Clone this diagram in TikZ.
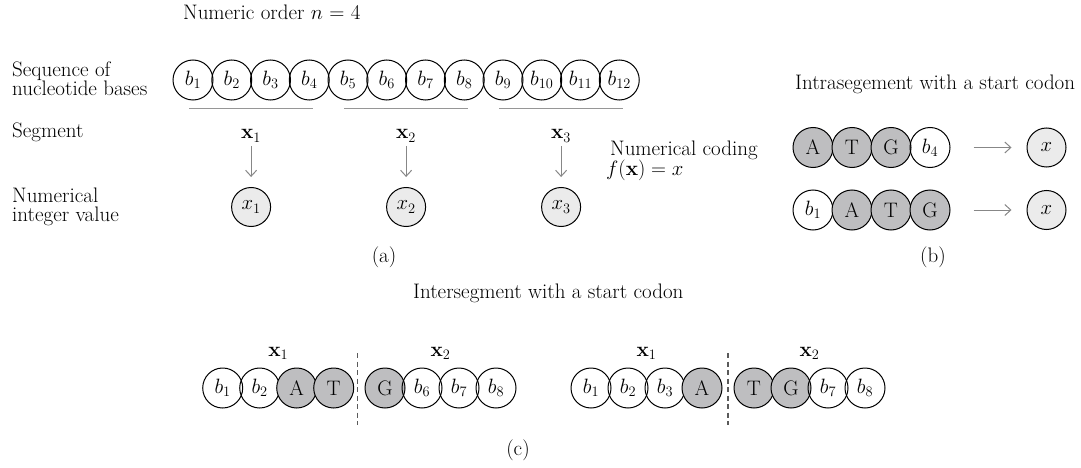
\documentclass[tikz,border=0pt]{standalone}
\usetikzlibrary{arrows.meta,calc}
\newcommand{\fsz}{\fontsize{21}{23}\selectfont}
\definecolor{codon}{RGB}{190,190,192}
\definecolor{valfill}{RGB}{235,235,235}
\definecolor{seggray}{RGB}{150,150,150}
\definecolor{arrgray}{RGB}{135,135,135}
\definecolor{dashgray}{RGB}{90,90,90}
\tikzset{
  basec/.style={circle, draw=black, line width=1pt, minimum size=40pt, inner sep=0pt, font=\fsz},
  darkc/.style={basec, fill=codon},
  valc/.style={basec, fill=valfill, minimum size=39pt},
  lbl/.style={font=\fsz, inner sep=0pt},
  seg/.style={draw=seggray, line width=1.8pt},
  arr/.style={draw=arrgray, line width=1pt, -{Straight Barb[length=6pt,width=11pt]}},
  divline/.style={draw=dashgray, line width=1.3pt, dash pattern=on 5pt off 3.5pt},
}
\begin{document}
\begin{tikzpicture}[x=1pt,y=-1pt]
\useasboundingbox (0,0) rectangle (1081,468);
% titles and side labels
\node[lbl, anchor=base west] (title) at (183,20) {Numeric order $n$ = 4};
\node[lbl, anchor=base west] (seq1) at (12,77) {Sequence of};
\node[lbl, anchor=base west] (seq2) at (12,96) {nucleotide bases};
\node[lbl, anchor=base west] (segl) at (12,137) {Segment};
\node[lbl, anchor=base west] (num1) at (12,202) {Numerical};
\node[lbl, anchor=base west] (num2) at (12,221) {integer value};
\node[lbl, anchor=base west] (cod1) at (610,155) {Numerical coding};
\node[lbl, anchor=base west] (cod2) at (606,175) {$f(\mathbf{x}) = x$};
% top row
\foreach \i in {1,...,12} {
  \node[basec] (t\i) at ({193+(\i-1)*38.75},80) {$b_{\i}$};
}
\draw[seg] ($(t1.center)+(-4,28.5)$) -- ($(t4.center)+(4,28.5)$);
\draw[seg] ($(t5.center)+(-4,28.5)$) -- ($(t8.center)+(4,28.5)$);
\draw[seg] ($(t9.center)+(-4,28.5)$) -- ($(t12.center)+(4,28.5)$);
% segments and values
\foreach \j/\xx in {1/251.1, 2/406.1, 3/561.1} {
  \node[lbl, anchor=base] (s\j) at (\xx,139) {$\mathbf{x}_{\j}$};
  \node[valc] (v\j) at (\xx,207) {$x_{\j}$};
  \draw[arr, shorten <=4pt, shorten >=10pt] (s\j) -- (v\j);
}
\node[lbl] (capa) at (384,257) {(a)};
% part (b)
\node[lbl, anchor=base west] (intra) at (795,90) {Intrasegement with a start codon};
\node[darkc] (p1) at (813,147.5) {A};
\node[darkc] (p2) at (852,147.5) {T};
\node[darkc] (p3) at (891,147.5) {G};
\node[basec] (p4) at (930,147.5) {$b_4$};
\node[valc] (px) at (1046.5,147.5) {$x$};
\draw[arr, shorten <=23pt, shorten >=15pt] (p4) -- (px);
\node[basec] (q1) at (813,210) {$b_1$};
\node[darkc] (q2) at (852,210) {A};
\node[darkc] (q3) at (891,210) {T};
\node[darkc] (q4) at (930,210) {G};
\node[valc] (qx) at (1046.5,210) {$x$};
\draw[arr, shorten <=23pt, shorten >=15pt] (q4) -- (qx);
\node[lbl] (capb) at (933,257) {(b)};
% part (c)
\node[lbl, anchor=base west] (inter) at (413,298) {Intersegment with a start codon};
% group 1
\node[basec] (c1) at (222.7,388) {$b_1$};
\node[basec] (c2) at (259.7,388) {$b_2$};
\node[darkc] (c3) at (296.7,388) {A};
\node[darkc] (c4) at (333.7,388) {T};
\node[darkc] (c5) at (385,388) {G};
\node[basec] (c6) at (422,388) {$b_6$};
\node[basec] (c7) at (459,388) {$b_7$};
\node[basec] (c8) at (496,388) {$b_8$};
\coordinate (d1a) at (357.3,353);
\coordinate (d1b) at (357.3,425);
\draw[divline] (d1a) -- (d1b);
\node[lbl, anchor=base] (cx1) at (278.2,356) {$\mathbf{x}_1$};
\node[lbl, anchor=base] (cx2) at (440.5,356) {$\mathbf{x}_2$};
% group 2
\node[basec] (e1) at (591,388) {$b_1$};
\node[basec] (e2) at (628,388) {$b_2$};
\node[basec] (e3) at (665,388) {$b_3$};
\node[darkc] (e4) at (702,388) {A};
\node[darkc] (e5) at (754,388) {T};
\node[darkc] (e6) at (791,388) {G};
\node[basec] (e7) at (828,388) {$b_7$};
\node[basec] (e8) at (865,388) {$b_8$};
\coordinate (d2a) at (728,353);
\coordinate (d2b) at (728,425);
\draw[divline] (d2a) -- (d2b);
\node[lbl, anchor=base] (ex1) at (646.5,356) {$\mathbf{x}_1$};
\node[lbl, anchor=base] (ex2) at (809.5,356) {$\mathbf{x}_2$};
\node[lbl] (capc) at (518,450) {(c)};
\end{tikzpicture}
\end{document}
